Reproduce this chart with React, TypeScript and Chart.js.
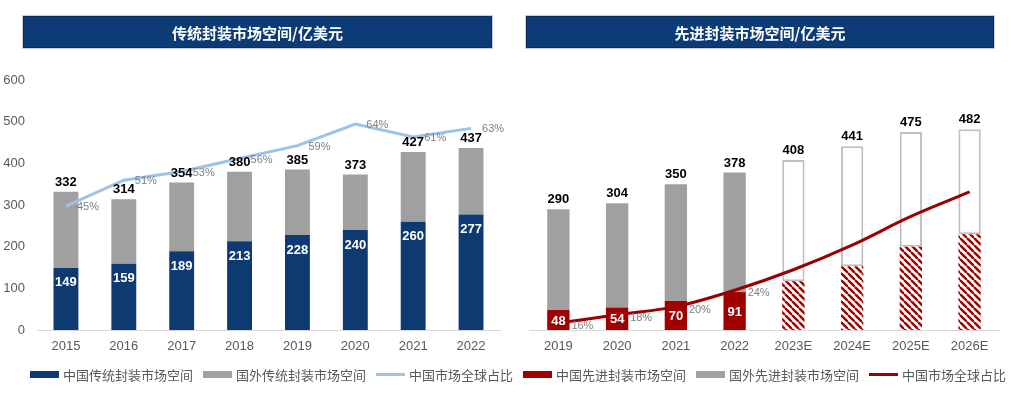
import React, { useEffect, useRef } from "react";
import { Chart, registerables } from "chart.js";

Chart.register(...registerables);

// ---------------- data ----------------
const tradTitle = "传统封装市场空间/亿美元";
const advTitle = "先进封装市场空间/亿美元";

const tradYears = ["2015", "2016", "2017", "2018", "2019", "2020", "2021", "2022"];
const tradChina = [149, 159, 189, 213, 228, 240, 260, 277];
const tradTotal = [332, 314, 354, 380, 385, 373, 427, 437];
const tradShare = [45, 51, 53, 56, 59, 64, 61, 63];

const advYears = ["2019", "2020", "2021", "2022", "2023E", "2024E", "2025E", "2026E"];
const advChina = [48, 54, 70, 91, 117, 153, 200, 230];
const advTotal = [290, 304, 350, 378, 408, 441, 475, 482];
const advShare = [16, 18, 20, 24, 29, 35, 42, 48];
const advIsForecast = [false, false, false, false, true, true, true, true];

const yTickMin = 0;
const yTickMax = 600;
const yTickStep = 100;

const tradLegend = ["中国传统封装市场空间", "国外传统封装市场空间", "中国市场全球占比"];
const advLegend = ["中国先进封装市场空间", "国外先进封装市场空间", "中国市场全球占比"];

// ---------------- styles ----------------
const NAVY = "#0E3A72";
const GRAY = "#A0A0A0";
const RED = "#A00000";
const DARKRED = "#9B0000";
const LIGHTBLUE = "#9DC3E6";
const AXIS = "#D9D9D9";
const TICK = "#595959";
const NUM_FONT = '"Liberation Sans", Arial, sans-serif';
const CJK_FONT = '"Noto Sans CJK SC", "Noto Sans", sans-serif';

const tradForeign = tradTotal.map((t, i) => t - tradChina[i]);
const advForeign = advTotal.map((t, i) => t - advChina[i]);

function makeHatch(color: string) {
  const s = 7;
  const c = document.createElement("canvas");
  c.width = s;
  c.height = s;
  const g = c.getContext("2d")!;
  g.fillStyle = "#ffffff";
  g.fillRect(0, 0, s, s);
  g.strokeStyle = color;
  g.lineWidth = 2.4;
  for (const o of [-s, 0, s]) {
    g.beginPath();
    g.moveTo(o, 0);
    g.lineTo(o + s, s);
    g.stroke();
  }
  return g.createPattern(c, "repeat")!;
}

type LabelOpts = {
  chinaInside: "top" | "center";
  showChina: boolean[];
  showShare: boolean[];
  shareDy: number;
  shareDx: number;
  totals: number[];
  china: number[];
  share: number[];
};

function labelPlugin(o: LabelOpts) {
  return {
    id: "valueLabels",
    afterDatasetsDraw(chart: any) {
      const ctx = chart.ctx as CanvasRenderingContext2D;
      const m0 = chart.getDatasetMeta(0);
      const m1 = chart.getDatasetMeta(1);
      const m2 = chart.getDatasetMeta(2);
      ctx.save();
      ctx.font = `bold 13px ${NUM_FONT}`;
      ctx.fillStyle = "#000000";
      ctx.textAlign = "center";
      ctx.textBaseline = "bottom";
      o.totals.forEach((v, i) => {
        const b = m1.data[i];
        ctx.fillText(String(v), b.x, b.y - 3);
      });
      ctx.fillStyle = "#ffffff";
      ctx.textBaseline = "middle";
      o.china.forEach((v, i) => {
        if (!o.showChina[i]) return;
        const b = m0.data[i];
        const y = o.chinaInside === "top" ? b.y + 15 : (b.y + b.base) / 2 + 1;
        ctx.fillText(String(v), b.x, y);
      });
      ctx.font = `11px ${NUM_FONT}`;
      ctx.fillStyle = "#7F7F7F";
      ctx.textAlign = "left";
      o.share.forEach((v, i) => {
        if (!o.showShare[i]) return;
        const p = m2.data[i];
        ctx.fillText(`${v}%`, p.x + o.shareDx, p.y + o.shareDy);
      });
      ctx.restore();
    },
  };
}

function xScale() {
  return {
    stacked: true,
    grid: { display: false, drawTicks: false },
    border: { display: true, color: AXIS, width: 1 },
    ticks: { color: TICK, font: { family: NUM_FONT, size: 13 }, padding: 9 },
    afterFit(s: any) {
      s.height = 65;
    },
  };
}

function LeftChart() {
  const ref = useRef<HTMLCanvasElement>(null);
  useEffect(() => {
    const chart = new Chart(ref.current!, {
      type: "bar",
      data: {
        labels: tradYears,
        datasets: [
          {
            type: "bar",
            label: tradLegend[0],
            data: tradChina,
            backgroundColor: NAVY,
            stack: "s",
            barPercentage: 0.43,
            categoryPercentage: 1,
            order: 1,
          },
          {
            type: "bar",
            label: tradLegend[1],
            data: tradForeign,
            backgroundColor: GRAY,
            stack: "s",
            barPercentage: 0.43,
            categoryPercentage: 1,
            order: 1,
          },
          {
            type: "line",
            label: tradLegend[2],
            data: tradShare,
            yAxisID: "y2",
            borderColor: LIGHTBLUE,
            borderWidth: 3,
            pointRadius: 0,
            tension: 0,
            order: 0,
          },
        ] as any,
      },
      options: {
        responsive: false,
        animation: false,
        devicePixelRatio: 1,
        layout: { padding: { top: 80, right: 5, bottom: 0, left: 0 } },
        plugins: { legend: { display: false }, tooltip: { enabled: false } },
        scales: {
          x: xScale(),
          y: {
            stacked: true,
            min: yTickMin,
            max: yTickMax,
            ticks: { stepSize: yTickStep, color: TICK, font: { family: NUM_FONT, size: 13 }, padding: 12 },
            grid: { display: false, drawTicks: false },
            border: { display: false },
            afterFit(s: any) {
              s.width = 37;
            },
          },
          y2: { display: false, min: 16.3, max: 74.2 },
        },
      } as any,
      plugins: [
        labelPlugin({
          chinaInside: "top",
          showChina: tradChina.map(() => true),
          showShare: tradShare.map(() => true),
          shareDx: 11,
          shareDy: 1,
          totals: tradTotal,
          china: tradChina,
          share: tradShare,
        }),
      ],
    } as any);
    return () => chart.destroy();
  }, []);
  return <canvas ref={ref} width={505} height={395} style={{ position: "absolute", left: 0, top: 0 }} />;
}

function RightChart() {
  const ref = useRef<HTMLCanvasElement>(null);
  useEffect(() => {
    const hatch = makeHatch(RED);
    const chart = new Chart(ref.current!, {
      type: "bar",
      data: {
        labels: advYears,
        datasets: [
          {
            type: "bar",
            label: advLegend[0],
            data: advChina,
            backgroundColor: advIsForecast.map((f) => (f ? hatch : RED)),
            borderWidth: 0,
            stack: "s",
            barPercentage: 0.38,
            categoryPercentage: 1,
            order: 1,
          },
          {
            type: "bar",
            label: advLegend[1],
            data: advForeign,
            backgroundColor: advIsForecast.map((f) => (f ? "#FFFFFF" : GRAY)),
            borderColor: advIsForecast.map((f) => (f ? "#BFBFBF" : GRAY)),
            borderWidth: advIsForecast.map((f) => (f ? 2 : 0)),
            borderSkipped: false,
            stack: "s",
            barPercentage: 0.38,
            categoryPercentage: 1,
            order: 1,
          },
          {
            type: "line",
            label: advLegend[2],
            data: advShare,
            yAxisID: "y2",
            borderColor: DARKRED,
            borderWidth: 3,
            pointRadius: 0,
            tension: 0.35,
            order: 0,
          },
        ] as any,
      },
      options: {
        responsive: false,
        animation: false,
        devicePixelRatio: 1,
        layout: { padding: { top: 80, right: 12, bottom: 0, left: 24 } },
        plugins: { legend: { display: false }, tooltip: { enabled: false } },
        scales: {
          x: xScale(),
          y: { display: false, stacked: true, min: yTickMin, max: yTickMax },
          y2: { display: false, min: 14.3, max: 75.3 },
        },
      } as any,
      plugins: [
        labelPlugin({
          chinaInside: "center",
          showChina: advIsForecast.map((f) => !f),
          showShare: advIsForecast.map((f) => !f),
          shareDx: 13,
          shareDy: 3,
          totals: advTotal,
          china: advChina,
          share: advShare,
        }),
      ],
    } as any);
    return () => chart.destroy();
  }, []);
  return <canvas ref={ref} width={506} height={395} style={{ position: "absolute", left: 505, top: 0 }} />;
}

function Banner({ text, left, width }: { text: string; left: number; width: number }) {
  return (
    <div
      style={{
        position: "absolute",
        left,
        top: 16,
        width,
        height: 32,
        boxSizing: "border-box",
        background: "#0D3B76",
        border: "1px solid #0A2D5C",
        boxShadow: "0 0 0 1px #C9CED8",
        color: "#FFFFFF",
        fontFamily: CJK_FONT,
        fontWeight: 700,
        fontSize: 15,
        display: "flex",
        alignItems: "center",
        justifyContent: "center",
        zIndex: 2,
      }}
    >
      {text}
    </div>
  );
}

function Legend({ left, labels, colors }: { left: number; labels: string[]; colors: string[] }) {
  return (
    <div
      style={{
        position: "absolute",
        left,
        top: 366,
        height: 16,
        display: "flex",
        alignItems: "center",
        fontFamily: CJK_FONT,
        fontSize: 13,
        color: TICK,
        whiteSpace: "nowrap",
        zIndex: 2,
      }}
    >
      {labels.map((l, i) => (
        <div key={i} style={{ display: "flex", alignItems: "center", marginRight: 10 }}>
          <span
            style={{
              display: "inline-block",
              width: 29,
              height: i < 2 ? 7 : 3,
              background: colors[i],
              marginRight: 4,
            }}
          />
          <span>{l}</span>
        </div>
      ))}
    </div>
  );
}

export default function App() {
  return (
    <div style={{ position: "absolute", left: 0, top: 0, width: 1011, height: 395, background: "#FFFFFF", overflow: "hidden" }}>
      <LeftChart />
      <RightChart />
      <Banner text={tradTitle} left={23} width={469} />
      <Banner text={advTitle} left={526} width={468} />
      <Legend left={30} labels={tradLegend} colors={[NAVY, GRAY, LIGHTBLUE]} />
      <Legend left={523} labels={advLegend} colors={[RED, GRAY, DARKRED]} />
    </div>
  );
}
